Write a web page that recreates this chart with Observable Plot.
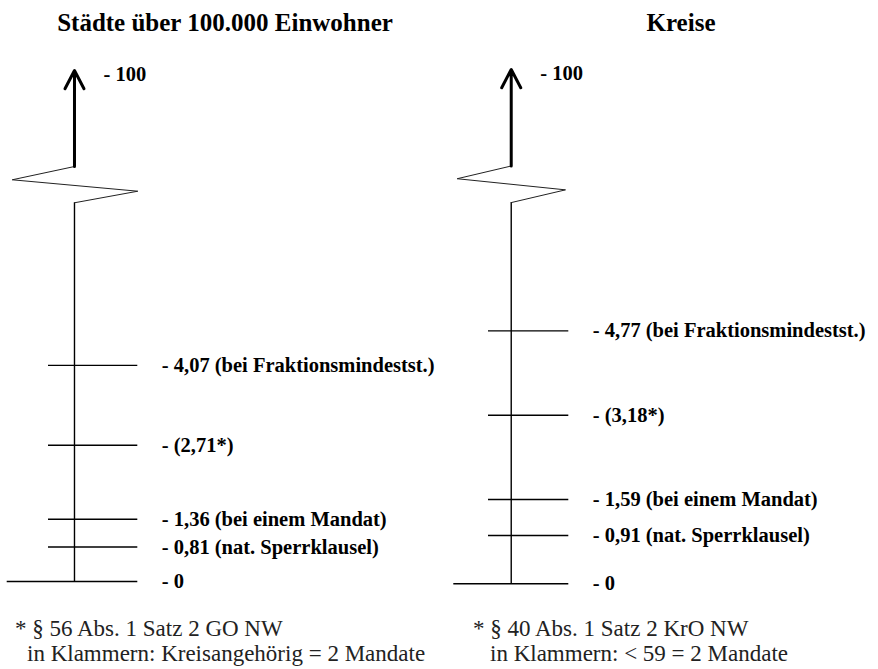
<!DOCTYPE html>
<html><head><meta charset="utf-8">
<script src="https://cdn.jsdelivr.net/npm/d3@7"></script>
<script src="https://cdn.jsdelivr.net/npm/@observablehq/plot@0.6"></script>
<style>
html,body{margin:0;padding:0;background:#fff;}
#page{position:relative;width:878px;height:669px;overflow:hidden;font-family:"Liberation Serif",serif;background:#fff;}
.title{position:absolute;top:7.5px;width:400px;text-align:center;font-weight:bold;font-size:25px;line-height:30px;color:#000;white-space:nowrap;}
.note{position:absolute;font-size:23px;line-height:24.5px;color:#222;white-space:nowrap;}
.panel{position:absolute;top:50px;}
</style></head>
<body><div id="page"></div>
<script>
// ---- data ----
const panelTitles = ["Städte über 100.000 Einwohner", "Kreise"];
const staedteValues = [0, 0.81, 1.36, 2.71, 4.07];
const staedteLabels = ["0", "0,81 (nat. Sperrklausel)", "1,36 (bei einem Mandat)", "(2,71*)", "4,07 (bei Fraktionsmindestst.)"];
const kreiseValues = [0, 0.91, 1.59, 3.18, 4.77];
const kreiseLabels = ["0", "0,91 (nat. Sperrklausel)", "1,59 (bei einem Mandat)", "(3,18*)", "4,77 (bei Fraktionsmindestst.)"];
const axisTopValue = 100;
const staedteNotes = ["* § 56 Abs. 1 Satz 2 GO NW", "in Klammern: Kreisangehörig = 2 Mandate"];
const kreiseNotes = ["* § 40 Abs. 1 Satz 2 KrO NW", "in Klammern: < 59 = 2 Mandate"];

// ---- layout (schematic, broken axis) ----
const layouts = [
  {left: 0, width: 440, marginLeft: 48, marginRight: 302.7, marginTop: 20, marginBottom: 29,
   yScale: {type: "pow", exponent: 1.136, domain: [0, 8.68]},
   axisX: 0.291, zeroInset: -41.3, brk: [7.227, 7.023, 6.847, 6.668], zigX: [-0.406, 1.0], titleCenter: 225, notesX: [15, 27]},
  {left: 440, width: 438, marginLeft: 48, marginRight: 309.7, marginTop: 19, marginBottom: 26.7,
   yScale: {type: "linear", domain: [0, 9.7]},
   axisX: 0.283, zeroInset: -34.7, brk: [7.88, 7.64, 7.43, 7.19], zigX: [-0.39, 0.959], titleCenter: 681, notesX: [473, 490]}
];
const H = 560;
const page = document.getElementById("page");

function panel(values, labels, L) {
  const data = values.map((v, i) => ({v, label: "- " + labels[i]}));
  const yTop = L.yScale.domain[1];
  const zig = [
    {x: L.axisX, y: L.brk[0]},
    {x: L.zigX[0], y: L.brk[1]},
    {x: L.zigX[1], y: L.brk[2]},
    {x: L.axisX, y: L.brk[3]}
  ];
  return Plot.plot({
    width: L.width, height: H,
    marginLeft: L.marginLeft, marginRight: L.marginRight,
    marginTop: L.marginTop, marginBottom: L.marginBottom,
    x: {domain: [0, 1], axis: null},
    y: {...L.yScale, axis: null},
    style: {fontFamily: "'Liberation Serif', serif", fontSize: "20.5px", fontWeight: "bold", color: "#000", background: "#fff", overflow: "visible"},
    marks: [
      Plot.ruleY(data.filter(d => d.v > 0), {y: "v", stroke: "#000", strokeWidth: 1.4}),
      Plot.ruleY(data.filter(d => d.v === 0), {y: "v", stroke: "#000", strokeWidth: 1.5, insetLeft: L.zeroInset}),
      Plot.ruleX([L.axisX], {x: d => d, y1: 0, y2: L.brk[3], stroke: "#000", strokeWidth: 1.4}),
      Plot.line(zig, {x: "x", y: "y", stroke: "#222", strokeWidth: 1, strokeLinejoin: "miter", strokeLinecap: "butt"}),
      Plot.arrow([axisTopValue], {x1: L.axisX, x2: L.axisX, y1: L.brk[0], y2: yTop, stroke: "#000", strokeWidth: 3, headLength: 10.3, headAngle: 55}),
      Plot.text([axisTopValue], {x: L.axisX, frameAnchor: "top", lineAnchor: "middle", textAnchor: "start", dx: 29, dy: 4, text: d => "- " + d, fill: "#000"}),
      Plot.text(data, {y: "v", frameAnchor: "right", textAnchor: "start", lineAnchor: "middle", dx: 24, text: "label", fill: "#000"})
    ]
  });
}

const sets = [[staedteValues, staedteLabels, staedteNotes], [kreiseValues, kreiseLabels, kreiseNotes]];
sets.forEach(([vals, labs, notes], i) => {
  const L = layouts[i];
  const t = document.createElement("div");
  t.className = "title";
  t.style.left = (L.titleCenter - 200) + "px";
  t.textContent = panelTitles[i];
  page.appendChild(t);

  const wrap = document.createElement("div");
  wrap.className = "panel";
  wrap.style.left = L.left + "px";
  wrap.appendChild(panel(vals, labs, L));
  page.appendChild(wrap);

  notes.forEach((n, j) => {
    const d = document.createElement("div");
    d.className = "note";
    d.style.left = L.notesX[j] + "px";
    d.style.top = (617.3 + j * 24.5) + "px";
    d.textContent = n;
    page.appendChild(d);
  });
});
</script>
</body></html>
